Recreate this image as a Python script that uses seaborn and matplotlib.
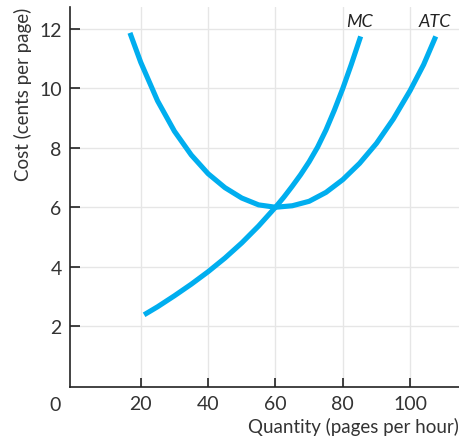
import matplotlib
matplotlib.use("Agg")
import matplotlib.pyplot as plt
import seaborn as sns
import pandas as pd

# Data
mc_x = [21, 25, 30, 35, 40, 45, 50, 55, 60, 62.5, 65, 67.5, 70, 72.5, 75, 77.5, 80, 82.5, 85.3]
mc_y = [2.38, 2.65, 3.02, 3.41, 3.83, 4.29, 4.8, 5.37, 6.0, 6.34, 6.71, 7.1, 7.53, 8.02, 8.6, 9.27, 10.0, 10.8, 11.75]

atc_x = [16.8, 20, 25, 30, 35, 40, 45, 50, 55, 60, 65, 70, 75, 80, 85, 90, 95, 100, 104, 107.6]
atc_y = [11.87, 10.88, 9.58, 8.56, 7.76, 7.13, 6.66, 6.31, 6.08, 6.0, 6.05, 6.2, 6.5, 6.93, 7.48, 8.15, 8.97, 9.93, 10.8, 11.75]

x_ticks = [20, 40, 60, 80, 100]
y_ticks = [2, 4, 6, 8, 10, 12]

sns.set_theme(style="white")
plt.rcParams['font.family'] = ['Lato', 'DejaVu Sans']

fig = plt.figure(figsize=(4.59, 4.39), dpi=100)
ax = fig.add_axes([70/459, 51/439, (459-70)/459, (388-8)/439])

color = "#00AEEF"
mc = pd.DataFrame({"q": mc_x, "c": mc_y})
atc = pd.DataFrame({"q": atc_x, "c": atc_y})
sns.lineplot(data=atc, x="q", y="c", ax=ax, color=color, lw=3.7, sort=False,
             solid_capstyle="butt", solid_joinstyle="round", zorder=3)
sns.lineplot(data=mc, x="q", y="c", ax=ax, color=color, lw=3.7, sort=False,
             solid_capstyle="butt", solid_joinstyle="round", zorder=3)

ax.set_xlim(-1, 114.5)
ax.set_ylim(-0.05, 12.74)
ax.set_xticks(x_ticks)
ax.set_yticks(y_ticks)
ax.grid(True, color="#e6e6e6", lw=1.0, zorder=0)
ax.set_axisbelow(True)

for s in ["top", "right"]:
    ax.spines[s].set_visible(False)
for s in ["left", "bottom"]:
    ax.spines[s].set_color("#222222")
    ax.spines[s].set_linewidth(1.2)

ax.tick_params(axis="both", direction="in", color="#222222", width=1.2,
               labelsize=14, labelcolor="#333333", left=True, bottom=True)
ax.tick_params(axis="y", length=7, pad=6)
ax.tick_params(axis="x", length=6.5, pad=6)

ax.set_xlabel("Quantity (pages per hour)", fontsize=13.5, color="#333333",
              loc="right", labelpad=3)
ax.set_ylabel("Cost (cents per page)", fontsize=13.5, color="#333333",
              loc="top", labelpad=5)

ax.text(-5.5, -0.63, "0", fontsize=14, color="#333333", ha="center", va="center",
        clip_on=False)
ax.text(85.0, 12.27, "MC", fontsize=13, style="italic", color="#222222",
        ha="center", va="center")
ax.text(107.3, 12.27, "ATC", fontsize=13, style="italic", color="#222222",
        ha="center", va="center")

fig.savefig("out.png", dpi=100)
